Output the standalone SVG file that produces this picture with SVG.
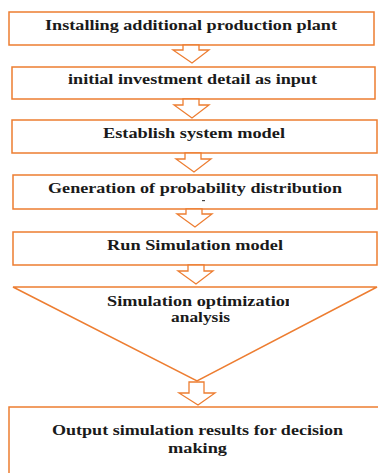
<svg xmlns="http://www.w3.org/2000/svg" width="378" height="473" viewBox="0 0 378 473">
<style>
.box{fill:#fff;stroke:#ED7D31;stroke-width:1.5}
.arr{fill:#fff;stroke:#ED7D31;stroke-width:1.3;stroke-linejoin:miter}
.t{font-family:"Liberation Serif","Times New Roman",serif;font-weight:bold;font-size:14.5px;fill:#1a1a1a}
</style>
<defs>
<clipPath id="cl"><rect x="0" y="290" width="289" height="25"/></clipPath>
</defs>
<rect width="378" height="473" fill="#fff"/>
<g id="n1"><rect class="box" x="9" y="12" width="365" height="33"/><text class="t" x="45" y="30" textLength="292" lengthAdjust="spacingAndGlyphs">Installing additional production plant</text></g>
<g id="n2"><rect class="box" x="12" y="67" width="363" height="32"/><text class="t" x="68" y="84" textLength="249" lengthAdjust="spacingAndGlyphs">initial investment detail as input</text></g>
<g id="n3"><rect class="box" x="12" y="120" width="365" height="33"/><text class="t" x="103" y="138" textLength="182" lengthAdjust="spacingAndGlyphs">Establish system model</text></g>
<g id="n4"><rect class="box" x="13" y="175" width="364" height="34"/><text class="t" x="48" y="193" textLength="294" lengthAdjust="spacingAndGlyphs">Generation of probability distribution</text><rect x="202" y="200" width="3" height="1.2" fill="#444"/></g>
<g id="n5"><rect class="box" x="13" y="232" width="364" height="33"/><text class="t" x="107" y="250" textLength="176" lengthAdjust="spacingAndGlyphs">Run Simulation model</text></g>
<g id="n6"><polygon class="box" points="13,287 377,287 197,381"/><text class="t" x="107" y="306" textLength="188" lengthAdjust="spacingAndGlyphs" clip-path="url(#cl)">Simulation optimization</text><text class="t" x="171" y="322" textLength="59" lengthAdjust="spacingAndGlyphs">analysis</text></g>
<g id="n7"><rect class="box" x="9" y="407" width="380" height="80"/><text class="t" x="52" y="435" textLength="291" lengthAdjust="spacingAndGlyphs">Output simulation results for decision</text><text class="t" x="168" y="453" textLength="59" lengthAdjust="spacingAndGlyphs">making</text></g>
<g id="connectors">
<polygon class="arr" points="183,45 199,45 199,50 209,50 192,63 173,50 183,50"/>
<polygon class="arr" points="183,99 199,99 199,105 209,105 192,118 174,105 183,105"/>
<polygon class="arr" points="185,153 201,153 201,159 211,159 194,172 176,159 185,159"/>
<polygon class="arr" points="186,209 202,209 202,214 212,214 195,227 177,214 186,214"/>
<polygon class="arr" points="188,265 204,265 204,271 213,271 196,284 178,271 188,271"/>
<polygon class="arr" points="189,382 204,382 204,393 215,393 198,405 179,393 189,393"/>
</g>
</svg>
